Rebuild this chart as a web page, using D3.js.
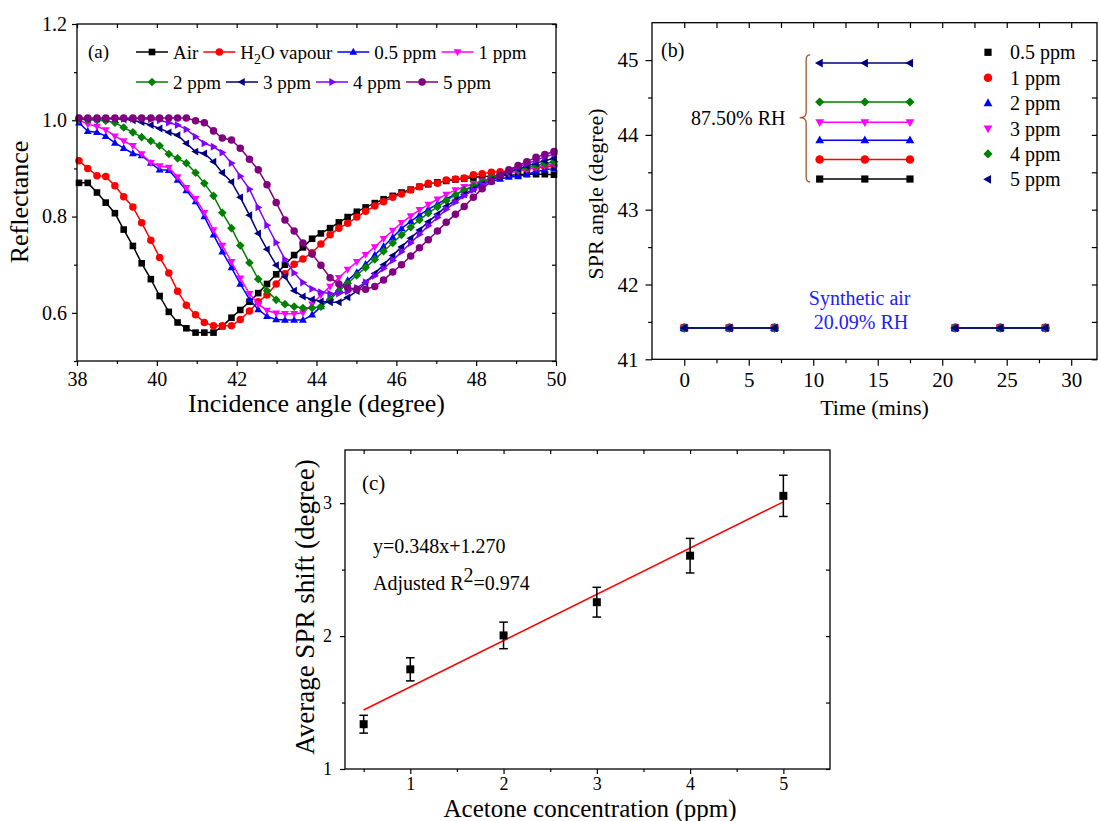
<!DOCTYPE html>
<html><head><meta charset="utf-8">
<script src="https://cdn.jsdelivr.net/npm/d3@7"></script>
<style>
html,body{margin:0;padding:0;background:#fff;}
svg{display:block;}
text{font-family:"Liberation Serif","Times New Roman",serif;fill:#000;}
</style></head>
<body>
<svg id="chart" width="1099" height="821"></svg>
<script>
// ---------------- DATA: panel (a) ----------------
const angles = [38.05,38.27,38.50,38.72,38.95,39.17,39.40,39.62,39.85,40.07,
40.30,40.52,40.74,40.97,41.19,41.42,41.64,41.87,42.09,42.32,
42.54,42.76,42.99,43.21,43.44,43.66,43.89,44.11,44.34,44.56,
44.78,45.01,45.23,45.46,45.68,45.91,46.13,46.36,46.58,46.80,
47.03,47.25,47.48,47.70,47.93,48.15,48.38,48.60,48.82,49.05,
49.27,49.50,49.72,49.95];
const air = [0.870,0.870,0.850,0.829,0.807,0.773,0.739,0.703,0.670,0.635,
0.602,0.580,0.568,0.559,0.559,0.559,0.572,0.590,0.606,0.623,
0.641,0.660,0.680,0.700,0.720,0.736,0.754,0.765,0.776,0.788,
0.799,0.810,0.819,0.828,0.836,0.843,0.850,0.856,0.862,0.867,
0.871,0.874,0.877,0.879,0.881,0.883,0.884,0.885,0.886,0.887,
0.888,0.888,0.888,0.887];
const h2o = [0.916,0.900,0.885,0.883,0.864,0.841,0.820,0.787,0.751,0.715,
0.683,0.645,0.616,0.596,0.580,0.573,0.573,0.573,0.586,0.604,
0.623,0.637,0.660,0.681,0.701,0.712,0.725,0.743,0.762,0.776,
0.786,0.799,0.811,0.822,0.831,0.840,0.847,0.855,0.862,0.869,
0.869,0.876,0.878,0.880,0.887,0.889,0.892,0.893,0.895,0.897,
0.899,0.901,0.903,0.906];
const ppm05 = [0.995,0.977,0.975,0.967,0.953,0.942,0.931,0.927,0.911,0.897,
0.896,0.876,0.854,0.831,0.800,0.762,0.727,0.694,0.660,0.628,
0.607,0.593,0.586,0.585,0.585,0.585,0.596,0.613,0.631,0.649,
0.667,0.684,0.701,0.720,0.738,0.757,0.775,0.790,0.803,0.815,
0.826,0.837,0.846,0.855,0.862,0.868,0.873,0.878,0.882,0.883,
0.888,0.893,0.897,0.900];
const ppm1 = [1.000,0.992,0.987,0.980,0.967,0.957,0.947,0.930,0.912,0.905,
0.902,0.882,0.860,0.837,0.808,0.772,0.740,0.706,0.672,0.640,
0.618,0.605,0.599,0.598,0.598,0.600,0.618,0.637,0.655,0.673,
0.690,0.706,0.721,0.737,0.754,0.771,0.787,0.801,0.814,0.825,
0.836,0.846,0.855,0.862,0.868,0.874,0.880,0.886,0.890,0.894,
0.898,0.902,0.906,0.910];
const ppm2 = [1.002,1.001,1.000,0.999,0.995,0.985,0.975,0.965,0.957,0.947,
0.930,0.921,0.911,0.891,0.869,0.843,0.808,0.776,0.740,0.704,
0.670,0.646,0.627,0.618,0.613,0.610,0.610,0.613,0.628,0.645,
0.661,0.678,0.694,0.711,0.728,0.745,0.762,0.778,0.793,0.807,
0.820,0.833,0.845,0.855,0.864,0.872,0.880,0.887,0.893,0.898,
0.902,0.906,0.910,0.914];
const ppm3 = [1.003,1.003,1.003,1.003,1.003,1.002,1.000,0.996,0.990,0.983,
0.975,0.969,0.952,0.935,0.931,0.914,0.891,0.872,0.840,0.803,
0.765,0.732,0.699,0.675,0.646,0.634,0.628,0.624,0.622,0.622,
0.632,0.645,0.663,0.682,0.700,0.719,0.737,0.755,0.772,0.789,
0.805,0.821,0.834,0.846,0.857,0.867,0.876,0.884,0.892,0.899,
0.905,0.911,0.916,0.921];
const ppm4 = [1.003,1.003,1.003,1.003,1.003,1.003,1.003,1.003,1.002,1.000,
0.995,0.990,0.981,0.966,0.952,0.945,0.933,0.911,0.884,0.857,
0.819,0.782,0.746,0.711,0.683,0.663,0.650,0.643,0.640,0.640,
0.644,0.652,0.664,0.677,0.692,0.709,0.727,0.745,0.763,0.781,
0.798,0.815,0.830,0.843,0.855,0.866,0.876,0.886,0.895,0.903,
0.910,0.917,0.924,0.930];
const ppm5 = [1.005,1.005,1.005,1.005,1.005,1.005,1.005,1.005,1.005,1.005,
1.005,1.005,1.005,0.999,0.995,0.978,0.963,0.959,0.942,0.919,
0.897,0.866,0.829,0.793,0.770,0.745,0.722,0.699,0.673,0.660,
0.652,0.649,0.649,0.655,0.668,0.685,0.700,0.718,0.735,0.752,
0.770,0.788,0.805,0.821,0.840,0.858,0.873,0.886,0.897,0.906,
0.914,0.923,0.929,0.935];
const aNames = ["Air","H2O vapour","0.5 ppm","1 ppm","2 ppm","3 ppm","4 ppm","5 ppm"];
const aXTicks = [38,40,42,44,46,48,50];
const aXMinor = [39,41,43,45,47,49];
const aYTicks = [0.6,0.8,1.0,1.2];
const aYMinor = [0.5,0.7,0.9,1.1];

// ---------------- DATA: panel (b) ----------------
const bNames = ["0.5 ppm","1 ppm","2 ppm","3 ppm","4 ppm","5 ppm"];
const bTimeBase1 = [0,3.5,7];
const bTimeExpo = [10.5,14,17.5];
const bTimeBase2 = [21,24.5,28];
const bBaseline = 41.42;
const bExposure = [43.41,43.67,43.93,44.17,44.44,44.96];
const bXTicks = [0,5,10,15,20,25,30];
const bXMinor = [2.5,7.5,12.5,17.5,22.5,27.5];
const bYTicks = [41,42,43,44,45];
const bYMinor = [41.5,42.5,43.5,44.5];

// ---------------- DATA: panel (c) ----------------
const cConc = [0.5,1,2,3,4,5];
const cShift = [1.337,1.750,2.005,2.255,2.605,3.055];
const cErr = [0.067,0.087,0.100,0.112,0.130,0.155];
const cFitSlope = 0.348, cFitIntercept = 1.270;
const cFitRange = [0.5,5];
const cXTicks = [1,2,3,4,5];
const cXMinor = [0.5,1.5,2.5,3.5,4.5];
const cYTicks = [1,2,3];
const cYMinor = [1.5,2.5];

// ---------------- helpers ----------------
const svg = d3.select("#chart");
const FONT = '"Liberation Serif","Times New Roman",serif';

function shape(type, r){
  switch(type){
    case "square": return `M${-r},${-r}H${r}V${r}H${-r}Z`;
    case "circle": return d3.symbol(d3.symbolCircle, Math.PI*r*r*1.15)();
    case "up": return `M0,${-r*1.25}L${r*1.15},${r*0.8}L${-r*1.15},${r*0.8}Z`;
    case "down": return `M0,${r*1.25}L${r*1.15},${-r*0.8}L${-r*1.15},${-r*0.8}Z`;
    case "left": return `M${-r*1.25},0L${r*0.8},${-r*1.15}L${r*0.8},${r*1.15}Z`;
    case "right": return `M${r*1.25},0L${-r*0.8},${-r*1.15}L${-r*0.8},${r*1.15}Z`;
    case "diamond": return `M0,${-r*1.35}L${r*1.35},0L0,${r*1.35}L${-r*1.35},0Z`;
  }
}

function txt(g, size){
  return g.append("text").style("font-family",FONT).style("font-size",size+"px").attr("fill","#000");
}

function frameAxes(g, x, y, o){
  const [x0,x1] = x.range(), [y0,y1] = y.range(); // y0 bottom
  const styleAxis = sel => {
    sel.attr("font-family",null).attr("font-size",null);
    sel.select(".domain").remove();
    sel.selectAll("line").attr("stroke","#000").attr("stroke-width",1.2);
    sel.selectAll("text").style("font-family",FONT).style("font-size",o.tickFont+"px").attr("fill","#000");
  };
  g.append("g").attr("transform",`translate(0,${y0})`)
    .call(d3.axisBottom(x).tickValues(o.xt).tickSize(o.tl).tickPadding(o.xpad).tickFormat(o.xf)).call(styleAxis);
  g.append("g").attr("transform",`translate(0,${y0})`)
    .call(d3.axisBottom(x).tickValues(o.xm).tickSize(o.tl*0.6).tickFormat("")).call(styleAxis);
  g.append("g").attr("transform",`translate(0,${y1})`)
    .call(d3.axisTop(x).tickValues(o.xt.concat(o.xm)).tickSize(-o.tl*0.8).tickFormat("")).call(styleAxis);
  g.append("g").attr("transform",`translate(${x0},0)`)
    .call(d3.axisLeft(y).tickValues(o.yt).tickSize(o.tl).tickPadding(o.ypad).tickFormat(o.yf)).call(styleAxis);
  g.append("g").attr("transform",`translate(${x0},0)`)
    .call(d3.axisLeft(y).tickValues(o.ym).tickSize(o.tl*0.6).tickFormat("")).call(styleAxis);
  g.append("g").attr("transform",`translate(${x1},0)`)
    .call(d3.axisRight(y).tickValues(o.yt.concat(o.ym)).tickSize(-o.tl*0.8).tickFormat("")).call(styleAxis);
  g.append("rect").attr("x",x0).attr("y",y1).attr("width",x1-x0).attr("height",y0-y1)
    .attr("fill","none").attr("stroke","#000").attr("stroke-width",1.3);
}

// ================= PANEL (a) =================
(function(){
  const g = svg.append("g");
  const x = d3.scaleLinear().domain([38,50]).range([77,556]);
  const y = d3.scaleLinear().domain([0.5,1.2]).range([361,24]);
  const series = [
    {v:air, c:"#000000", m:"square", r:3.3},
    {v:h2o, c:"#FF0000", m:"circle", r:3.5},
    {v:ppm05, c:"#0000FF", m:"up", r:3.4},
    {v:ppm1, c:"#FF00FF", m:"down", r:3.4},
    {v:ppm2, c:"#008000", m:"diamond", r:3.2},
    {v:ppm3, c:"#000080", m:"left", r:3.4},
    {v:ppm4, c:"#8000FF", m:"right", r:3.4},
    {v:ppm5, c:"#800080", m:"circle", r:3.5}
  ];
  const line = d3.line().x((d,i)=>x(angles[i])).y(d=>y(d));
  series.forEach(s=>{
    g.append("path").attr("d",line(s.v)).attr("fill","none").attr("stroke",s.c).attr("stroke-width",1.5);
    g.selectAll(null).data(s.v).enter().append("path")
      .attr("d",shape(s.m,s.r))
      .attr("transform",(d,i)=>`translate(${x(angles[i])},${y(d)})`)
      .attr("fill",s.c);
  });
  frameAxes(g,x,y,{xt:aXTicks,xm:aXMinor,yt:aYTicks,ym:aYMinor,tl:5,xpad:6,ypad:5,
    xf:d3.format("d"),yf:d3.format(".1f"),tickFont:20});
  txt(g,26).attr("x",316.5).attr("y",412).attr("text-anchor","middle").text("Incidence angle (degree)");
  txt(g,26).attr("transform","translate(28,202) rotate(-90)").attr("text-anchor","middle").text("Reflectance");
  txt(g,19).attr("x",88).attr("y",58).text("(a)");
  const rows = [[0,1,2,3],[4,5,6,7]];
  const rowY = [52,82];
  rows.forEach((row,ri)=>{
    let cx = 136;
    row.forEach(si=>{
      const s = series[si], yy = rowY[ri];
      g.append("line").attr("x1",cx).attr("x2",cx+32).attr("y1",yy).attr("y2",yy)
        .attr("stroke",s.c).attr("stroke-width",1.5);
      g.append("path").attr("d",shape(s.m,s.r)).attr("transform",`translate(${cx+16},${yy})`).attr("fill",s.c);
      const t = txt(g,19).attr("x",cx+37).attr("y",yy+6.5);
      if(aNames[si]==="H2O vapour"){
        t.append("tspan").text("H");
        t.append("tspan").attr("dy",5).style("font-size","14px").text("2");
        t.append("tspan").attr("dy",-5).text("O vapour");
      } else t.text(aNames[si]);
      cx = cx + 37 + t.node().getComputedTextLength() + 5;
    });
  });
})();

// ================= PANEL (b) =================
(function(){
  const g = svg.append("g");
  const x = d3.scaleLinear().domain([-2.5,32]).range([652,1097]);
  const y = d3.scaleLinear().domain([41,45.5]).range([359.3,22.7]);
  const styles = [
    {c:"#000000", m:"square", r:3.6},
    {c:"#FF0000", m:"circle", r:4},
    {c:"#0000FF", m:"up", r:3.8},
    {c:"#FF00FF", m:"down", r:3.8},
    {c:"#008000", m:"diamond", r:3.4},
    {c:"#000080", m:"left", r:3.8}
  ];
  const line = d3.line().x(d=>x(d[0])).y(d=>y(d[1]));
  bNames.forEach((n,i)=>{
    const s = styles[i];
    const segs = [
      bTimeBase1.map(t=>[t,bBaseline]),
      bTimeExpo.map(t=>[t,bExposure[i]]),
      bTimeBase2.map(t=>[t,bBaseline])
    ];
    segs.forEach(seg=>{
      g.append("path").attr("d",line(seg)).attr("fill","none").attr("stroke",s.c).attr("stroke-width",1.5);
      seg.forEach(p=>{
        g.append("path").attr("d",shape(s.m,s.r)).attr("transform",`translate(${x(p[0])},${y(p[1])})`).attr("fill",s.c);
      });
    });
    const ly = 52.3 + i*25.4;
    g.append("path").attr("d",shape(s.m,s.r)).attr("transform",`translate(988,${ly})`).attr("fill",s.c);
    txt(g,20).attr("x",1010).attr("y",ly+7).text(n);
  });
  frameAxes(g,x,y,{xt:bXTicks,xm:bXMinor,yt:bYTicks,ym:bYMinor,tl:6.5,xpad:6,ypad:7,
    xf:d3.format("d"),yf:d3.format("d"),tickFont:21});
  txt(g,22).attr("x",874.5).attr("y",415).attr("text-anchor","middle").text("Time (mins)");
  txt(g,22).attr("transform","translate(603,194) rotate(-90)").attr("text-anchor","middle").text("SPR angle (degree)");
  txt(g,20).attr("x",661).attr("y",57).text("(b)");
  const bx = x(9.45), tipx = x(8.95), yt = y(45.07), yb = y(43.37), ym = y(44.23);
  g.append("path").attr("d",
    `M${bx+4},${yt} Q${bx},${yt} ${bx},${yt+5} L${bx},${ym-5} Q${bx},${ym} ${tipx},${ym} Q${bx},${ym} ${bx},${ym+5} L${bx},${yb-5} Q${bx},${yb} ${bx+4},${yb}`)
    .attr("fill","none").attr("stroke","#A0522D").attr("stroke-width",1.3);
  txt(g,20).attr("x",x(7.85)).attr("y",ym+7).attr("text-anchor","end").text("87.50% RH");
  txt(g,20).attr("x",x(13.6)).attr("y",y(41.73)).attr("text-anchor","middle").attr("fill","#2020FF").style("fill","#2020FF").text("Synthetic air");
  txt(g,20).attr("x",x(13.7)).attr("y",y(41.4)).attr("text-anchor","middle").attr("fill","#2020FF").style("fill","#2020FF").text("20.09% RH");
})();

// ================= PANEL (c) =================
(function(){
  const g = svg.append("g");
  const x = d3.scaleLinear().domain([0.3,5.5]).range([345,830]);
  const y = d3.scaleLinear().domain([1,3.4]).range([769,450]);
  g.append("line").attr("x1",x(cFitRange[0])).attr("x2",x(cFitRange[1]))
    .attr("y1",y(cFitSlope*cFitRange[0]+cFitIntercept)).attr("y2",y(cFitSlope*cFitRange[1]+cFitIntercept))
    .attr("stroke","#FF0000").attr("stroke-width",1.5);
  cConc.forEach((c,i)=>{
    const xx = x(c), yT = y(cShift[i]+cErr[i]), yB = y(cShift[i]-cErr[i]);
    g.append("line").attr("x1",xx).attr("x2",xx).attr("y1",yT).attr("y2",yB).attr("stroke","#000").attr("stroke-width",1.5);
    [yT,yB].forEach(yy=>g.append("line").attr("x1",xx-4.3).attr("x2",xx+4.3).attr("y1",yy).attr("y2",yy).attr("stroke","#000").attr("stroke-width",1.5));
    g.append("path").attr("d",shape("square",4)).attr("transform",`translate(${xx},${y(cShift[i])})`).attr("fill","#000");
  });
  frameAxes(g,x,y,{xt:cXTicks,xm:cXMinor,yt:cYTicks,ym:cYMinor,tl:5,xpad:3,ypad:8,
    xf:d3.format("d"),yf:d3.format("d"),tickFont:18});
  txt(g,25).attr("x",590).attr("y",817).attr("text-anchor","middle").text("Acetone concentration (ppm)");
  txt(g,27).attr("transform","translate(314,607) rotate(-90)").attr("text-anchor","middle").text("Average SPR shift (degree)");
  txt(g,21).attr("x",362).attr("y",490).text("(c)");
  txt(g,20).attr("x",373).attr("y",553).text("y=0.348x+1.270");
  const t = txt(g,20).attr("x",373).attr("y",590);
  t.append("tspan").text("Adjusted R");
  t.append("tspan").attr("dy",-8).text("2");
  t.append("tspan").attr("dy",8).text("=0.974");
})();
</script>
</body></html>
